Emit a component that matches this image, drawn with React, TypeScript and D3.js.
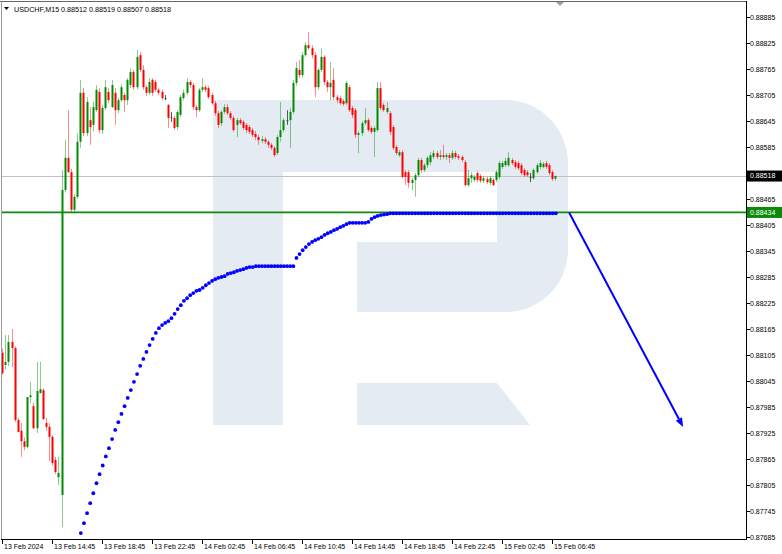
import React from 'react';
import * as d3 from 'd3';

// ---------- DATA ----------
const symbolTitle = 'USDCHF,M15';
const lastBar = ['0.88512', '0.88519', '0.88507', '0.88518'];

const opens = [
  0.88110, 0.88082, 0.88089, 0.88135, 0.88121, 0.87955, 0.87930, 0.87906, 0.87893, 0.88008,
  0.87987, 0.87936, 0.88017, 0.88024, 0.87948, 0.87939, 0.87916, 0.87863, 0.87823, 0.87782,
  0.88486, 0.88560, 0.88527, 0.88440, 0.88470, 0.88597, 0.88710, 0.88617, 0.88647, 0.88636,
  0.88670, 0.88712, 0.88624, 0.88675, 0.88712, 0.88677, 0.88710, 0.88670, 0.88693, 0.88705,
  0.88693, 0.88728, 0.88758, 0.88723, 0.88797, 0.88763, 0.88723, 0.88710, 0.88740, 0.88735,
  0.88717, 0.88712, 0.88698, 0.88682, 0.88654, 0.88652, 0.88631, 0.88659, 0.88698, 0.88710,
  0.88735, 0.88728, 0.88677, 0.88670, 0.88717, 0.88723, 0.88721, 0.88705, 0.88686, 0.88663,
  0.88640, 0.88666, 0.88677, 0.88663, 0.88652, 0.88636, 0.88647, 0.88643, 0.88636, 0.88631,
  0.88624, 0.88615, 0.88608, 0.88599, 0.88603, 0.88597, 0.88590, 0.88583, 0.88571, 0.88608,
  0.88624, 0.88647, 0.88647, 0.88666, 0.88733, 0.88763, 0.88751, 0.88797, 0.88820, 0.88813,
  0.88797, 0.88723, 0.88763, 0.88793, 0.88735, 0.88723, 0.88740, 0.88700, 0.88698, 0.88691,
  0.88686, 0.88723, 0.88675, 0.88670, 0.88613, 0.88617, 0.88640, 0.88647, 0.88629, 0.88620,
  0.88624, 0.88721, 0.88682, 0.88666, 0.88663, 0.88631, 0.88585, 0.88566, 0.88573, 0.88527,
  0.88527, 0.88502, 0.88509, 0.88520, 0.88555, 0.88532, 0.88543, 0.88550, 0.88562, 0.88571,
  0.88562, 0.88566, 0.88562, 0.88566, 0.88560, 0.88571, 0.88564, 0.88562, 0.88550, 0.88497,
  0.88513, 0.88509, 0.88525, 0.88518, 0.88507, 0.88511, 0.88502, 0.88509, 0.88509, 0.88516,
  0.88539, 0.88543, 0.88543, 0.88555, 0.88550, 0.88548, 0.88543, 0.88532, 0.88527, 0.88516,
  0.88513, 0.88527, 0.88539, 0.88539, 0.88548, 0.88543, 0.88527, 0.88512,
];
const highs = [
  0.88120, 0.88151, 0.88151, 0.88165, 0.88125, 0.87960, 0.87948, 0.87915, 0.88008, 0.88043,
  0.87995, 0.88089, 0.88089, 0.88028, 0.87960, 0.87948, 0.87920, 0.87870, 0.87870, 0.88532,
  0.88601, 0.88670, 0.88535, 0.88475, 0.88617, 0.88740, 0.88721, 0.88700, 0.88677, 0.88690,
  0.88728, 0.88721, 0.88682, 0.88740, 0.88721, 0.88740, 0.88721, 0.88698, 0.88730, 0.88710,
  0.88744, 0.88767, 0.88763, 0.88809, 0.88804, 0.88774, 0.88728, 0.88744, 0.88744, 0.88740,
  0.88721, 0.88717, 0.88705, 0.88684, 0.88666, 0.88657, 0.88670, 0.88705, 0.88717, 0.88744,
  0.88740, 0.88733, 0.88682, 0.88721, 0.88744, 0.88728, 0.88726, 0.88710, 0.88691, 0.88668,
  0.88670, 0.88684, 0.88684, 0.88668, 0.88657, 0.88652, 0.88652, 0.88647, 0.88640, 0.88636,
  0.88629, 0.88622, 0.88613, 0.88610, 0.88608, 0.88601, 0.88594, 0.88587, 0.88613, 0.88689,
  0.88652, 0.88670, 0.88675, 0.88740, 0.88781, 0.88786, 0.88804, 0.88827, 0.88850, 0.88820,
  0.88804, 0.88767, 0.88813, 0.88797, 0.88740, 0.88781, 0.88767, 0.88705, 0.88703, 0.88696,
  0.88737, 0.88728, 0.88680, 0.88675, 0.88622, 0.88645, 0.88675, 0.88652, 0.88633, 0.88633,
  0.88735, 0.88735, 0.88686, 0.88689, 0.88668, 0.88636, 0.88590, 0.88578, 0.88578, 0.88532,
  0.88532, 0.88513, 0.88525, 0.88560, 0.88560, 0.88548, 0.88564, 0.88573, 0.88578, 0.88576,
  0.88578, 0.88590, 0.88571, 0.88571, 0.88578, 0.88576, 0.88569, 0.88566, 0.88555, 0.88532,
  0.88527, 0.88520, 0.88530, 0.88523, 0.88518, 0.88516, 0.88518, 0.88513, 0.88532, 0.88553,
  0.88553, 0.88560, 0.88573, 0.88560, 0.88555, 0.88553, 0.88548, 0.88536, 0.88532, 0.88525,
  0.88536, 0.88548, 0.88555, 0.88550, 0.88553, 0.88548, 0.88532, 0.88519,
];
const lows = [
  0.88060, 0.88072, 0.88080, 0.88077, 0.87950, 0.87927, 0.87870, 0.87885, 0.87890, 0.87994,
  0.87934, 0.87925, 0.88017, 0.87955, 0.87930, 0.87860, 0.87850, 0.87830, 0.87805, 0.87708,
  0.88480, 0.88525, 0.88435, 0.88432, 0.88465, 0.88583, 0.88610, 0.88610, 0.88590, 0.88620,
  0.88666, 0.88617, 0.88615, 0.88670, 0.88686, 0.88675, 0.88636, 0.88663, 0.88689, 0.88666,
  0.88682, 0.88721, 0.88717, 0.88717, 0.88758, 0.88717, 0.88703, 0.88705, 0.88703, 0.88712,
  0.88705, 0.88693, 0.88693, 0.88629, 0.88643, 0.88624, 0.88624, 0.88654, 0.88693, 0.88705,
  0.88721, 0.88670, 0.88654, 0.88666, 0.88712, 0.88712, 0.88696, 0.88682, 0.88657, 0.88629,
  0.88633, 0.88661, 0.88659, 0.88647, 0.88620, 0.88608, 0.88636, 0.88624, 0.88617, 0.88615,
  0.88608, 0.88601, 0.88590, 0.88594, 0.88592, 0.88583, 0.88578, 0.88562, 0.88566, 0.88597,
  0.88620, 0.88636, 0.88583, 0.88661, 0.88726, 0.88744, 0.88744, 0.88793, 0.88809, 0.88790,
  0.88700, 0.88717, 0.88758, 0.88728, 0.88712, 0.88693, 0.88693, 0.88686, 0.88682, 0.88680,
  0.88682, 0.88666, 0.88652, 0.88606, 0.88571, 0.88610, 0.88636, 0.88620, 0.88615, 0.88562,
  0.88620, 0.88670, 0.88666, 0.88661, 0.88613, 0.88578, 0.88566, 0.88562, 0.88513, 0.88497,
  0.88491, 0.88486, 0.88470, 0.88516, 0.88525, 0.88527, 0.88536, 0.88543, 0.88557, 0.88557,
  0.88555, 0.88557, 0.88555, 0.88548, 0.88555, 0.88557, 0.88555, 0.88550, 0.88495, 0.88493,
  0.88502, 0.88504, 0.88504, 0.88502, 0.88502, 0.88500, 0.88497, 0.88495, 0.88504, 0.88511,
  0.88534, 0.88539, 0.88539, 0.88543, 0.88534, 0.88532, 0.88520, 0.88516, 0.88516, 0.88504,
  0.88509, 0.88523, 0.88534, 0.88536, 0.88534, 0.88520, 0.88507, 0.88507,
];
const closes = [
  0.88063, 0.88089, 0.88135, 0.88121, 0.87955, 0.87927, 0.87906, 0.87893, 0.88008, 0.88012,
  0.87936, 0.88022, 0.88026, 0.87957, 0.87939, 0.87916, 0.87856, 0.87835, 0.87833, 0.88486,
  0.88560, 0.88527, 0.88440, 0.88470, 0.88597, 0.88710, 0.88617, 0.88689, 0.88631, 0.88677,
  0.88717, 0.88624, 0.88675, 0.88723, 0.88693, 0.88728, 0.88670, 0.88693, 0.88723, 0.88693,
  0.88740, 0.88758, 0.88723, 0.88793, 0.88763, 0.88723, 0.88710, 0.88735, 0.88710, 0.88717,
  0.88710, 0.88698, 0.88698, 0.88652, 0.88654, 0.88629, 0.88666, 0.88700, 0.88710, 0.88735,
  0.88728, 0.88677, 0.88670, 0.88717, 0.88723, 0.88717, 0.88700, 0.88686, 0.88663, 0.88636,
  0.88666, 0.88677, 0.88663, 0.88652, 0.88624, 0.88647, 0.88640, 0.88629, 0.88624, 0.88620,
  0.88613, 0.88608, 0.88601, 0.88603, 0.88597, 0.88590, 0.88583, 0.88566, 0.88608, 0.88624,
  0.88647, 0.88647, 0.88666, 0.88733, 0.88767, 0.88751, 0.88797, 0.88820, 0.88813, 0.88797,
  0.88723, 0.88763, 0.88793, 0.88735, 0.88723, 0.88733, 0.88700, 0.88693, 0.88686, 0.88684,
  0.88733, 0.88670, 0.88659, 0.88613, 0.88617, 0.88640, 0.88647, 0.88624, 0.88620, 0.88629,
  0.88721, 0.88675, 0.88670, 0.88675, 0.88620, 0.88583, 0.88571, 0.88573, 0.88516, 0.88516,
  0.88502, 0.88509, 0.88520, 0.88555, 0.88532, 0.88543, 0.88560, 0.88566, 0.88571, 0.88562,
  0.88566, 0.88562, 0.88566, 0.88560, 0.88571, 0.88562, 0.88560, 0.88555, 0.88497, 0.88513,
  0.88520, 0.88516, 0.88509, 0.88507, 0.88513, 0.88504, 0.88513, 0.88497, 0.88527, 0.88548,
  0.88548, 0.88553, 0.88560, 0.88548, 0.88539, 0.88536, 0.88525, 0.88520, 0.88520, 0.88516,
  0.88532, 0.88543, 0.88548, 0.88546, 0.88539, 0.88525, 0.88511, 0.88518,
];

// blue dotted indicator, one value per bar starting at bar DOTS_START
const DOTS_START = 25;
const dotValues = [
  0.87694, 0.87717, 0.87740, 0.87763, 0.87786, 0.87809, 0.87830, 0.87850, 0.87871, 0.87890,
  0.87911, 0.87932, 0.87950, 0.87969, 0.87987, 0.88006, 0.88024, 0.88043, 0.88061, 0.88080,
  0.88096, 0.88112, 0.88128, 0.88142, 0.88156, 0.88167, 0.88174, 0.88179, 0.88183, 0.88190,
  0.88200, 0.88211, 0.88220, 0.88230, 0.88236, 0.88243, 0.88248, 0.88253, 0.88255, 0.88260,
  0.88266, 0.88271, 0.88276, 0.88280, 0.88283, 0.88285, 0.88287, 0.88292, 0.88294, 0.88296,
  0.88299, 0.88301, 0.88303, 0.88306, 0.88308, 0.88308, 0.88310, 0.88310, 0.88310, 0.88310,
  0.88310, 0.88310, 0.88310, 0.88310, 0.88310, 0.88310, 0.88310, 0.88310, 0.88310, 0.88329,
  0.88338, 0.88347, 0.88354, 0.88361, 0.88366, 0.88370, 0.88373, 0.88377, 0.88382, 0.88386,
  0.88389, 0.88393, 0.88396, 0.88400, 0.88403, 0.88407, 0.88410, 0.88410, 0.88410, 0.88410,
  0.88410, 0.88410, 0.88412, 0.88419, 0.88423, 0.88426, 0.88428, 0.88429, 0.88430, 0.88432,
  0.88432, 0.88432, 0.88432, 0.88432, 0.88432, 0.88432, 0.88432, 0.88432, 0.88432, 0.88432,
  0.88432, 0.88432, 0.88432, 0.88432, 0.88432, 0.88432, 0.88432, 0.88432, 0.88432, 0.88432,
  0.88432, 0.88432, 0.88432, 0.88432, 0.88432, 0.88432, 0.88432, 0.88432, 0.88432, 0.88432,
  0.88432, 0.88432, 0.88432, 0.88432, 0.88432, 0.88432, 0.88432, 0.88432, 0.88432, 0.88432,
  0.88432, 0.88432, 0.88432, 0.88432, 0.88432, 0.88432, 0.88432, 0.88432, 0.88432, 0.88432,
  0.88432, 0.88432, 0.88432,
];

const levelPrice = 0.88434;      // green horizontal level
const bidPrice = 0.88518;        // grey bid line
const arrowFrom = { bar: 181.4, price: 0.88434 };
const arrowTo = { bar: 217.9, price: 0.87939 };

const yTicks = [
  0.88885, 0.88825, 0.88765, 0.88705, 0.88645, 0.88585, 0.88525, 0.88465, 0.88405, 0.88345,
  0.88285, 0.88225, 0.88165, 0.88105, 0.88045, 0.87985, 0.87925, 0.87865, 0.87805, 0.87745, 0.87685,
];
const xTickBars = [0, 16, 32, 48, 64, 80, 96, 112, 128, 144, 160, 176];
const xTickLabels = [
  '13 Feb 2024', '13 Feb 14:45', '13 Feb 18:45', '13 Feb 22:45', '14 Feb 02:45', '14 Feb 06:45',
  '14 Feb 10:45', '14 Feb 14:45', '14 Feb 18:45', '14 Feb 22:45', '15 Feb 02:45', '15 Feb 06:45',
];

// ---------- LAYOUT ----------
const W = 782;
const H = 554;
const P = { left: 2, right: 746, top: 2, bottom: 539 };
const FONT = '"Liberation Sans", Arial, sans-serif';

const xScale = d3.scaleLinear().domain([0, 238]).range([2.2, 2.2 + 238 * 3.125]);
const yScale = d3.scaleLinear().domain([0.87685, 0.88885]).range([537, 17]);

const GREEN = '#008c00';
const RED = '#ff0000';

export default function App() {
  const bars = closes.map((c, i) => ({ i, o: opens[i], h: highs[i], l: lows[i], c }));
  const dots = dotValues.map((v, k) => ({ i: DOTS_START + k, v }));

  const ax0 = xScale(arrowFrom.bar), ay0 = yScale(arrowFrom.price);
  const ax1 = xScale(arrowTo.bar), ay1 = yScale(arrowTo.price);
  const ang = Math.atan2(ay1 - ay0, ax1 - ax0);
  const hl = 9, hw = 3.5;
  const bx = ax1 - hl * Math.cos(ang), by = ay1 - hl * Math.sin(ang);
  const head = [
    [ax1, ay1],
    [bx + hw * Math.sin(ang), by - hw * Math.cos(ang)],
    [bx - hw * Math.sin(ang), by + hw * Math.cos(ang)],
  ].map((p) => p.join(',')).join(' ');

  const wm = '#e5ebf3';

  return (
    <svg width={W} height={H} style={{ position: 'absolute', left: 0, top: 0, background: '#fff' }}
      fontFamily={FONT}>
      <defs>
        <clipPath id="plotclip">
          <rect x={P.left} y={P.top} width={P.right - P.left} height={P.bottom - P.top} />
        </clipPath>
      </defs>
      <rect x={0} y={0} width={W} height={H} fill="#fff" />

      <g clipPath="url(#plotclip)">
        {/* watermark logo */}
        <path d="M213,100 H505 A63,63 0 0 1 568,163 V250 A62,62 0 0 1 506,312 H357 V242 H497 V172 H283 V425 H213 Z"
          fill={wm} />
        <path d="M357,383 H497 L530,425 H357 Z" fill={wm} />

        {/* bid line */}
        <line x1={P.left} x2={P.right} y1={Math.round(yScale(bidPrice)) + 0.5} y2={Math.round(yScale(bidPrice)) + 0.5}
          stroke="#c0c0c0" strokeWidth={1} />
        {/* level line */}
        <line x1={P.left} x2={P.right} y1={yScale(levelPrice)} y2={yScale(levelPrice)}
          stroke="#0f8a0f" strokeWidth={1.7} />

        {/* candles */}
        {bars.map((b) => {
          const cx = Math.round(xScale(b.i));
          const up = b.c > b.o;
          const doji = Math.abs(b.c - b.o) < 0.000015;
          const col = doji ? '#333' : up ? GREEN : RED;
          const top = yScale(Math.max(b.o, b.c));
          const bot = yScale(Math.min(b.o, b.c));
          return (
            <g key={b.i}>
              <line x1={cx + 0.5} x2={cx + 0.5} y1={yScale(b.h)} y2={yScale(b.l)}
                stroke={col} strokeOpacity={doji ? 0.8 : 0.45} strokeWidth={1} />
              <rect x={cx - 0.5} y={top} width={doji ? 2 : 2} height={Math.max(1, bot - top)} fill={col}
                opacity={doji ? 0.8 : 1} />
            </g>
          );
        })}

        {/* blue dots */}
        {dots.map((d) => (
          <circle key={d.i} cx={xScale(d.i) + 0.5} cy={yScale(d.v)} r={1.9} fill="#0000ff" />
        ))}

        {/* forecast arrow */}
        <line x1={ax0} y1={ay0} x2={bx} y2={by} stroke="#0000ff" strokeWidth={2} />
        <polygon points={head} fill="#0000ff" />
      </g>

      {/* frame */}
      <line x1={0} x2={P.right + 1} y1={1.5} y2={1.5} stroke="#666" strokeWidth={1} />
      <line x1={1.5} x2={1.5} y1={1} y2={P.bottom} stroke="#999" strokeWidth={1} />
      <line x1={P.right + 0.5} x2={P.right + 0.5} y1={1} y2={P.bottom + 1} stroke="#000" strokeWidth={1} />
      <line x1={1} x2={P.right + 1} y1={P.bottom + 0.5} y2={P.bottom + 0.5} stroke="#000" strokeWidth={1} />
      <polygon points="556,2 564,2 560,6" fill="#a0a0a0" />

      {/* header */}
      <polygon points="4,7 9,7 6.5,10" fill="#000" />
      <text x={14} y={12} fontSize={7.2} fill="#000">
        {`${symbolTitle}  ${lastBar.join(' ')}`}
      </text>

      {/* y axis */}
      {yTicks.map((t) => {
        const yy = Math.round(yScale(t)) + 0.5;
        return (
          <g key={t}>
            <line x1={P.right + 1} x2={P.right + 4} y1={yy} y2={yy} stroke="#000" />
            <text x={750} y={yy} dy="0.35em" fontSize={7} fill="#000">{t.toFixed(5)}</text>
          </g>
        );
      })}
      {/* price tags */}
      {[{ v: bidPrice, bg: '#000' }, { v: levelPrice, bg: '#0a8a0a' }].map((p) => {
        const yy = yScale(p.v);
        return (
          <g key={p.v}>
            <rect x={P.right + 1} y={yy - 5.5} width={W - P.right - 1} height={11} fill={p.bg} />
            <text x={750} y={yy} dy="0.35em" fontSize={7} fill="#fff">{p.v.toFixed(5)}</text>
          </g>
        );
      })}

      {/* x axis */}
      {xTickBars.map((b, k) => {
        const xx = Math.round(xScale(b)) + 0.5;
        return (
          <g key={b}>
            <line x1={xx} x2={xx} y1={P.bottom + 1} y2={P.bottom + 5} stroke="#000" />
            <text x={xx + 1.5} y={549} fontSize={7} fill="#000">{xTickLabels[k]}</text>
          </g>
        );
      })}
    </svg>
  );
}
